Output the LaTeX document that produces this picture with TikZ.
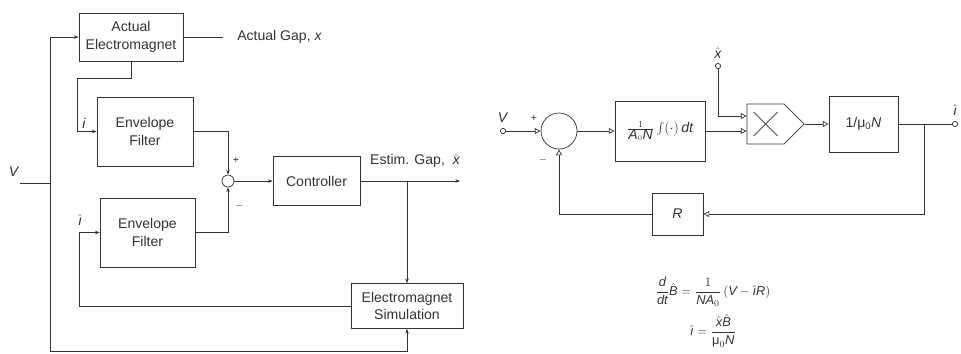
\documentclass[tikz,border=0pt]{standalone}
\usepackage{fontspec}
\setmainfont{Liberation Sans}
\usetikzlibrary{arrows.meta,positioning,shapes.symbols}
\newcommand{\sv}[1]{\textit{#1}}

\begin{document}
\begin{tikzpicture}[
  x=0.03cm, y=-0.03cm,
  font=\fontsize{12}{15}\selectfont,
  color=black!80, line width=0.6pt,
  blk/.style={draw, align=center, inner sep=2pt},
  sumpt/.style={draw, circle, inner sep=0pt},
  term/.style={draw, circle, minimum size=4.5pt, inner sep=0pt},
  mult/.style={draw, signal, signal to=east, signal pointer angle=90,
               minimum width=1.71cm, minimum height=1.2cm, inner sep=0pt},
  arr/.style={-{Stealth[length=4pt,width=3pt]}},
  oarr/.style={-{Triangle[open,length=5pt,width=5pt]}},
  sgn/.style={font=\fontsize{9}{10}\selectfont},
  eqn/.style={font=\fontsize{11}{12}\selectfont, inner sep=1pt},
]
  \useasboundingbox (0,0) rectangle (961,353);

  \node[blk, minimum width=3.12cm, minimum height=1.44cm] (act) at (131,37) {Actual\\Electromagnet};
  \node[blk, minimum width=2.88cm, minimum height=2.07cm] (env1) at (145,131.5) {Envelope\\Filter};
  \node[blk, minimum width=2.85cm, minimum height=2.07cm] (env2) at (147.5,232.5) {Envelope\\Filter};
  \node[sumpt, minimum size=0.36cm] (sum1) at (228,181) {};
  \node[blk, minimum width=2.61cm, minimum height=1.47cm] (ctrl) at (316.5,181) {Controller};
  \node[blk, minimum width=3.36cm, minimum height=1.35cm] (sim) at (407,306) {Electromagnet\\Simulation};

  \coordinate (vleft) at (20,183);
  \coordinate (vbot) at (50,351);
  \coordinate (iturn) at (77,78);
  \coordinate (ihturn) at (79,306);
  \coordinate (gapend) at (223,37);
  \coordinate (xest) at (460,181);
  \coordinate (tap) at (407,181);

  \draw (vleft) -- (vleft -| vbot);
  \draw[arr] (vbot) |- (act.west);
  \draw[arr] (vbot) -| (sim.south);
  \draw (act.east) -- (gapend);
  \draw[arr] (act.south) |- (iturn) |- (env1.west);
  \draw[arr] (env1.east) -| (sum1.north);
  \draw[arr] (env2.east) -| (sum1.south);
  \draw[arr] (sum1) -- (ctrl);
  \draw[arr] (ctrl) -- (xest);
  \draw[arr] (tap) -- (sim);
  \draw[arr] (sim) -- (ihturn) |- (env2.west);

  \node (vlab) at (14,172) {\sv{V}};
  \node[right=0.3cm of gapend] (gaplab) {Actual Gap, \sv{x}};
  \node (ilab) at (84,123) {\sv{i}};
  \node (ihlab) at (80,220) {$\hat{\sv{\i}}$};
  \node[sgn] (plus1) at (236,160) {+};
  \node[sgn] (minus1) at (239,206) {$-$};
  \node (estlab) at (415,161) {Estim. Gap, \ $\bar{\sv{x}}$};

  \node[term] (vin) at (503,131) {};
  \node[above=1pt of vin] (vlab2) {\sv{V}};
  \node[sumpt, minimum size=1.08cm] (sum2) at (559,131) {};
  \node[blk, minimum width=2.7cm, minimum height=1.8cm] (integ) at (660,131)
    {$\frac{1}{\sv{A}_0\sv{N}}\int(\cdot)\,\sv{dt}$};
  \node[mult, path picture={
      \draw ([shift={(-22,-12)}]path picture bounding box.center) -- ([shift={(2,12)}]path picture bounding box.center);
      \draw ([shift={(-22,12)}]path picture bounding box.center) -- ([shift={(2,-12)}]path picture bounding box.center);
    }] (prod) at (765.5,124) {};
  \node[blk, minimum width=2.07cm, minimum height=1.68cm] (invmu) at (863.5,124) {1/μ\textsubscript{0}\sv{N}};
  \node[term] (iout) at (955,124) {};
  \node[above=1pt of iout] (ioutlab) {$\hat{\sv{\i}}$};
  \node[term] (xin) at (718,66) {};
  \node[above=0pt of xin] (xinlab) {$\hat{\sv{x}}$};
  \node[blk, minimum width=1.53cm, minimum height=1.26cm] (rbox) at (677.5,214) {\sv{R}};
  \node[sgn] (plus2) at (534,118) {+};
  \node[sgn] (minus2) at (543,160) {$-$};

  \coordinate (xcorner) at (718,116);
  \coordinate (jn) at (924,124);

  \draw[oarr] (vin) -- (sum2);
  \draw[oarr] (sum2) -- (integ);
  \draw[oarr] (integ.east) -- (integ.east -| prod.west);
  \draw[oarr] (xin) -- (xcorner) -- (xcorner -| prod.west);
  \draw[oarr] (prod.east) -- (invmu);
  \draw (invmu) -- (iout);
  \draw[oarr] (jn) |- (rbox);
  \draw[oarr] (rbox) -| (sum2);

  \node[eqn] (eq1) at (713,292) {$\displaystyle\frac{\sv{d}}{\sv{dt}}\hat{\sv{B}} = \frac{1}{\sv{NA}_0}\,(\sv{V} - \hat{\sv{\i}}\sv{R})$};
  \node[eqn] (eq2) at (713,331) {$\displaystyle\hat{\sv{\i}} = \frac{\hat{\sv{x}}\hat{\sv{B}}}{\mbox{μ}_0\sv{N}}$};
\end{tikzpicture}
\end{document}
